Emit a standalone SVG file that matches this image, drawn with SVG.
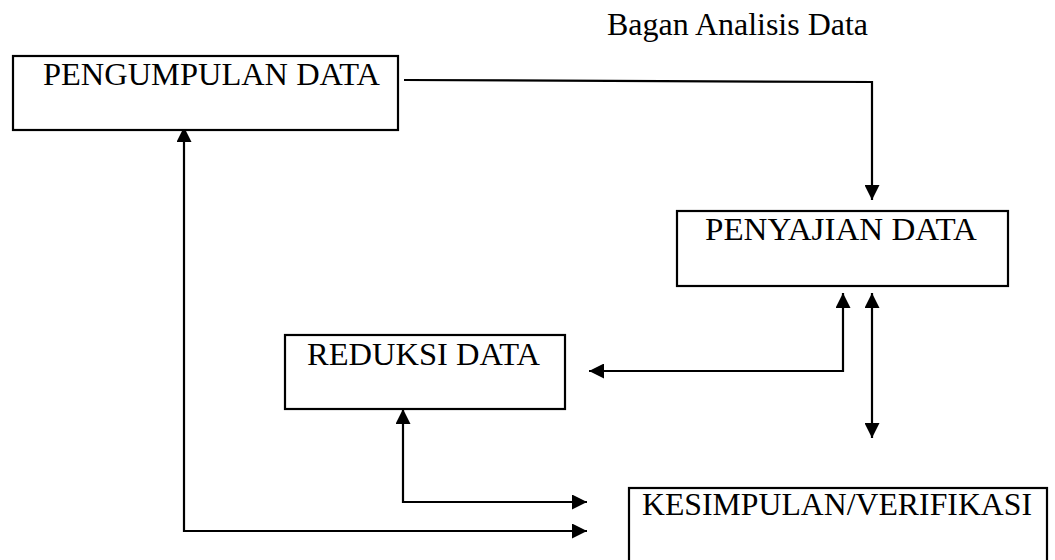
<svg xmlns="http://www.w3.org/2000/svg" width="1055" height="560" viewBox="0 0 1055 560">
<style>
  .box { fill: #ffffff; stroke: #000000; stroke-width: 2.2; }
  .lbl { font-family: "Liberation Serif", "Times New Roman", serif; font-size: 32px; fill: #000000; }
  .conn { fill: none; stroke: #000000; stroke-width: 2.2; }
</style>
<defs>
  <marker id="ah" viewBox="0 0 15 15" refX="15" refY="7.5" markerWidth="15" markerHeight="15" markerUnits="userSpaceOnUse" orient="auto-start-reverse">
    <path d="M0,0 L15,7.5 L0,15 z" fill="#000000"/>
  </marker>
</defs>
<rect width="1055" height="560" fill="#ffffff"/>
<text class="lbl" x="607" y="35" textLength="261" lengthAdjust="spacingAndGlyphs">Bagan Analisis Data</text>
<g id="connectors">
  <path class="conn" d="M404,80 L872,82 L872,200" marker-end="url(#ah)"/>
  <path class="conn" d="M589,371 L843,371 L843,293" marker-start="url(#ah)" marker-end="url(#ah)"/>
  <path class="conn" d="M872,293 L872,438" marker-start="url(#ah)" marker-end="url(#ah)"/>
  <path class="conn" d="M403,409 L403,502 L587,502" marker-start="url(#ah)" marker-end="url(#ah)"/>
  <path class="conn" d="M587,531 L184,531 L184,127" marker-start="url(#ah)" marker-end="url(#ah)"/>
</g>
<g id="pengumpulan">
  <rect class="box" x="13" y="56" width="385" height="74"/>
  <text class="lbl" x="43" y="85" textLength="337" lengthAdjust="spacingAndGlyphs">PENGUMPULAN DATA</text>
</g>
<g id="penyajian">
  <rect class="box" x="677" y="211" width="331" height="75"/>
  <text class="lbl" x="705" y="240" textLength="272" lengthAdjust="spacingAndGlyphs">PENYAJIAN DATA</text>
</g>
<g id="reduksi">
  <rect class="box" x="285" y="335" width="280" height="74"/>
  <text class="lbl" x="307" y="365" textLength="233" lengthAdjust="spacingAndGlyphs">REDUKSI DATA</text>
</g>
<g id="kesimpulan">
  <rect class="box" x="629" y="488" width="418" height="90"/>
  <text class="lbl" x="642" y="515" textLength="390" lengthAdjust="spacingAndGlyphs">KESIMPULAN/VERIFIKASI</text>
</g>
</svg>
